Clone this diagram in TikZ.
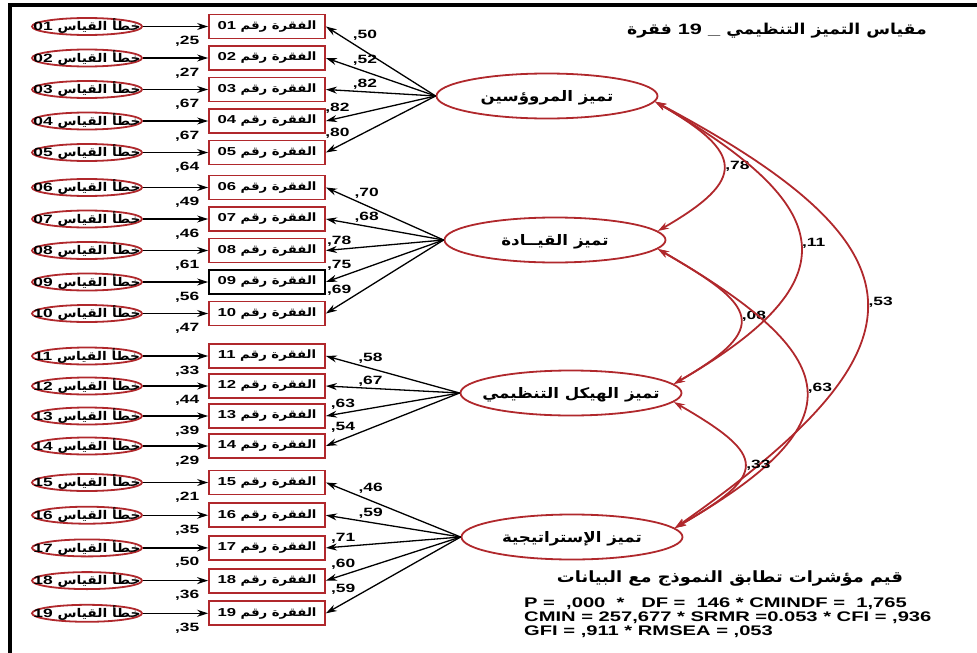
\documentclass[tikz,border=0pt]{standalone}
\usepackage{fontspec}
\setmainfont{Liberation Sans}[FakeStretch=1.45]
\newfontfamily\arabicfont[Script=Arabic,FakeStretch=1.15]{DejaVu Sans}
\TeXXeTstate=1
\usetikzlibrary{shapes.geometric, arrows.meta}
\definecolor{semred}{RGB}{176,40,44}

\newcommand{\errtext}[1]{\makebox[0pt]{\beginR{\arabicfont خطأ القياس} #1\endR}}
\newcommand{\itemtext}[1]{\beginR{\arabicfont الفقرة رقم} #1\endR}
\newcommand{\factext}[1]{\makebox[0pt]{\arabicfont\beginR #1\endR}}

\tikzstyle{item} = [rectangle, minimum width=116pt, minimum height=24pt, inner sep=1pt, draw=semred, line width=1.8pt, font=\bfseries\fontsize{11.5}{13}\selectfont]
\tikzstyle{err} = [ellipse, minimum width=110pt, minimum height=17pt, inner sep=0pt, text height=8.5pt, text depth=0pt, draw=semred, line width=1.8pt, font=\bfseries\fontsize{12}{13}\selectfont]
\tikzstyle{factor} = [ellipse, minimum width=221pt, minimum height=45pt, inner sep=0pt, text height=10pt, text depth=0pt, draw=semred, line width=1.8pt, font=\bfseries\fontsize{14.5}{16}\selectfont]
\tikzstyle{arrow} = [line width=1.3pt, ->, >={Stealth[length=11pt, width=7pt]}]
\tikzstyle{cov} = [draw=semred, line width=1.8pt, <->, >={Stealth[length=11pt, width=7pt]}]
\tikzstyle{coef} = [inner sep=1pt, font=\bfseries\fontsize{12}{13}\selectfont]
\tikzstyle{load} = [coef, auto, swap, pos=0.77]
\tikzstyle{resid} = [coef, below=8pt, pos=0.68]

\begin{document}
\begin{tikzpicture}[x=1pt, y=1pt, node distance=31.5pt]
\useasboundingbox (0,0) rectangle (977,-653);
\draw [line width=3.5pt] (10,-653) -- (10,-5) -- (977,-5);

\node (title) [font=\bfseries\fontsize{15}{18}\selectfont] at (777,-31) {\beginR{\arabicfont مقياس التميز التنظيمي} \_ 19 {\arabicfont فقرة}\endR};

% items
\node (i01) [item] at (267,-26.5) {\itemtext{01}};
\node (i02) [item, below of=i01] {\itemtext{02}};
\node (i03) [item, below of=i02] {\itemtext{03}};
\node (i04) [item, below of=i03] {\itemtext{04}};
\node (i05) [item, below of=i04] {\itemtext{05}};
\node (i06) [item] at (267,-187.5) {\itemtext{06}};
\node (i07) [item, below of=i06] {\itemtext{07}};
\node (i08) [item, below of=i07] {\itemtext{08}};
\node (i09) [item, below of=i08, draw=black] {\itemtext{09}};
\node (i10) [item, below of=i09] {\itemtext{10}};
\node (i11) [item] at (267,-356) {\itemtext{11}};
\node (i12) [item, below of=i11, yshift=1.5pt] {\itemtext{12}};
\node (i13) [item, below of=i12, yshift=1.5pt] {\itemtext{13}};
\node (i14) [item, below of=i13, yshift=1.5pt] {\itemtext{14}};
\node (i15) [item] at (267,-482.5) {\itemtext{15}};
\node (i16) [item, below of=i15, yshift=-1.2pt] {\itemtext{16}};
\node (i17) [item, below of=i16, yshift=-1.2pt] {\itemtext{17}};
\node (i18) [item, below of=i17, yshift=-1.2pt] {\itemtext{18}};
\node (i19) [item, below of=i18, yshift=-1.2pt] {\itemtext{19}};

% errors
\node (e01) [err, left of=i01, xshift=-148.5pt] {\errtext{01}};
\node (e02) [err, left of=i02, xshift=-148.5pt] {\errtext{02}};
\node (e03) [err, left of=i03, xshift=-148.5pt] {\errtext{03}};
\node (e04) [err, left of=i04, xshift=-148.5pt] {\errtext{04}};
\node (e05) [err, left of=i05, xshift=-148.5pt] {\errtext{05}};
\node (e06) [err, left of=i06, xshift=-148.5pt] {\errtext{06}};
\node (e07) [err, left of=i07, xshift=-148.5pt] {\errtext{07}};
\node (e08) [err, left of=i08, xshift=-148.5pt] {\errtext{08}};
\node (e09) [err, left of=i09, xshift=-148.5pt] {\errtext{09}};
\node (e10) [err, left of=i10, xshift=-148.5pt] {\errtext{10}};
\node (e11) [err, left of=i11, xshift=-148.5pt] {\errtext{11}};
\node (e12) [err, left of=i12, xshift=-148.5pt] {\errtext{12}};
\node (e13) [err, left of=i13, xshift=-148.5pt] {\errtext{13}};
\node (e14) [err, left of=i14, xshift=-148.5pt] {\errtext{14}};
\node (e15) [err, left of=i15, xshift=-148.5pt] {\errtext{15}};
\node (e16) [err, left of=i16, xshift=-148.5pt] {\errtext{16}};
\node (e17) [err, left of=i17, xshift=-148.5pt] {\errtext{17}};
\node (e18) [err, left of=i18, xshift=-148.5pt] {\errtext{18}};
\node (e19) [err, left of=i19, xshift=-148.5pt] {\errtext{19}};

% factors
\node (F1) [factor] at (547,-96) {\factext{تميز المروؤسين}};
\node (F2) [factor] at (555,-240) {\factext{تميز القيــادة}};
\node (F3) [factor] at (571,-393) {\factext{تميز الهيكل التنظيمي}};
\node (F4) [factor] at (572,-537) {\factext{تميز الإستراتيجية}};

\node (fithead) [font=\bfseries\fontsize{15.5}{17}\selectfont] at (730,-579) {\arabicfont\beginR قيم مؤشرات تطابق النموذج مع البيانات\endR};
\node (fit) [anchor=north west, align=left, inner sep=0pt, font=\bfseries\fontsize{13.9}{14}\selectfont] at (524,-598) {P =\ \ ,000\ \ *\ \ \ DF =\ \ 146 * CMINDF =\ \ 1,765\\CMIN = 257,677 * SRMR =0.053 * CFI = ,936\\GFI = ,911 * RMSEA = ,053};

\draw [arrow] (e01) -- node[resid] {,25} (i01);
\draw [arrow] (e02) -- node[resid] {,27} (i02);
\draw [arrow] (e03) -- node[resid] {,67} (i03);
\draw [arrow] (e04) -- node[resid] {,67} (i04);
\draw [arrow] (e05) -- node[resid] {,64} (i05);
\draw [arrow] (e06) -- node[resid] {,49} (i06);
\draw [arrow] (e07) -- node[resid] {,46} (i07);
\draw [arrow] (e08) -- node[resid] {,61} (i08);
\draw [arrow] (e09) -- node[resid] {,56} (i09);
\draw [arrow] (e10) -- node[resid] {,47} (i10);
\draw [arrow] (e11) -- node[resid] {,33} (i11);
\draw [arrow] (e12) -- node[resid] {,44} (i12);
\draw [arrow] (e13) -- node[resid] {,39} (i13);
\draw [arrow] (e14) -- node[resid] {,29} (i14);
\draw [arrow] (e15) -- node[resid] {,21} (i15);
\draw [arrow] (e16) -- node[resid] {,35} (i16);
\draw [arrow] (e17) -- node[resid] {,50} (i17);
\draw [arrow] (e18) -- node[resid] {,36} (i18);
\draw [arrow] (e19) -- node[resid] {,35} (i19);

\draw [arrow] (F1.west) -- node[load] {,50} (i01.east);
\draw [arrow] (F1.west) -- node[load] {,52} (i02.east);
\draw [arrow] (F1.west) -- node[load] {,82} (i03.east);
\draw [arrow] (F1.west) -- node[load] {,82} (i04.east);
\draw [arrow] (F1.west) -- node[load] {,80} (i05.east);
\draw [arrow] (F2.west) -- node[load] {,70} (i06.east);
\draw [arrow] (F2.west) -- node[load] {,68} (i07.east);
\draw [arrow] (F2.west) -- node[load] {,78} (i08.east);
\draw [arrow] (F2.west) -- node[load] {,75} (i09.east);
\draw [arrow] (F2.west) -- node[load] {,69} (i10.east);
\draw [arrow] (F3.west) -- node[load] {,58} (i11.east);
\draw [arrow] (F3.west) -- node[load] {,67} (i12.east);
\draw [arrow] (F3.west) -- node[load] {,63} (i13.east);
\draw [arrow] (F3.west) -- node[load] {,54} (i14.east);
\draw [arrow] (F4.west) -- node[load] {,46} (i15.east);
\draw [arrow] (F4.west) -- node[load] {,59} (i16.east);
\draw [arrow] (F4.west) -- node[load] {,71} (i17.east);
\draw [arrow] (F4.west) -- node[load] {,60} (i18.east);
\draw [arrow] (F4.west) -- node[load] {,59} (i19.east);

\draw [cov] (F1.-3) to[out=-30, in=30, distance=103pt] node[coef, right] {,78} (F2.5);
\draw [cov] (F1.-3) to[out=-30, in=30, distance=209pt] node[coef, right] {,11} (F3.5);
\draw [cov] (F1.-3) to[out=-28, in=35, distance=316pt] node[coef, right] {,53} (F4.5);
\draw [cov] (F2.-5) to[out=-30, in=30, distance=114pt] node[coef, right] {,08} (F3.5);
\draw [cov] (F2.-5) to[out=-30, in=30, distance=215pt] node[coef, right] {,63} (F4.5);
\draw [cov] (F3.-5) to[out=-30, in=30, distance=108pt] node[coef, right] {,33} (F4.5);

\end{tikzpicture}
\end{document}
